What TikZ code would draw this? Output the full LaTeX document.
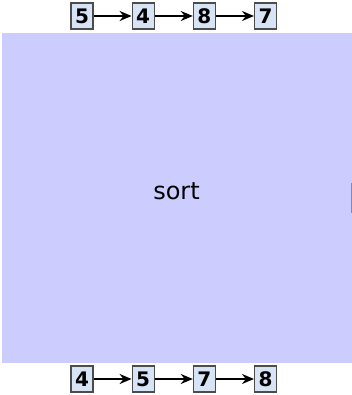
\documentclass[tikz,border=0pt]{standalone}
\usepackage{fontspec}
\setmainfont{DejaVu Sans}
\usetikzlibrary{arrows.meta,positioning}
\definecolor{elemfill}{RGB}{214,228,246}
\definecolor{sortfill}{RGB}{204,204,255}

\begin{document}
\begin{tikzpicture}[x=1pt, y=-1pt,
    node distance=38pt,
    elem/.style={draw=black!70, fill=elemfill, line width=1.2pt, minimum width=22pt, minimum height=26pt,
      inner sep=0pt, font=\bfseries\fontsize{20}{20}\selectfont},
    sortbg/.style={fill=sortfill, minimum width=350pt, minimum height=330pt, inner sep=0pt},
    arr/.style={-{Stealth[length=12pt, width=10pt]}, line width=2.6pt}
  ]
    \useasboundingbox (0,0) rectangle (352,395);
    \node[sortbg] (sorter) at (177,198) {};
    \node[font=\fontsize{24}{24}\selectfont] (sortlbl) at (176.5,191) {sort};
    \draw[black!45, line width=1.5pt] (351.3,183) -- (351.3,213);
    % input list
    \node[elem] (in1) at (82,16) {5};
    \node[elem, right=of in1] (in2) {4};
    \node[elem, right=of in2] (in3) {8};
    \node[elem, right=of in3] (in4) {7};
    % output list
    \node[elem] (out1) at (82,379) {4};
    \node[elem, right=of out1] (out2) {5};
    \node[elem, right=of out2] (out3) {7};
    \node[elem, right=of out3] (out4) {8};
    \foreach \a/\b in {1/2,2/3,3/4} {
      \draw[arr] (in\a) -- (in\b);
      \draw[arr] (out\a) -- (out\b);
    }
  \end{tikzpicture}
\end{document}
